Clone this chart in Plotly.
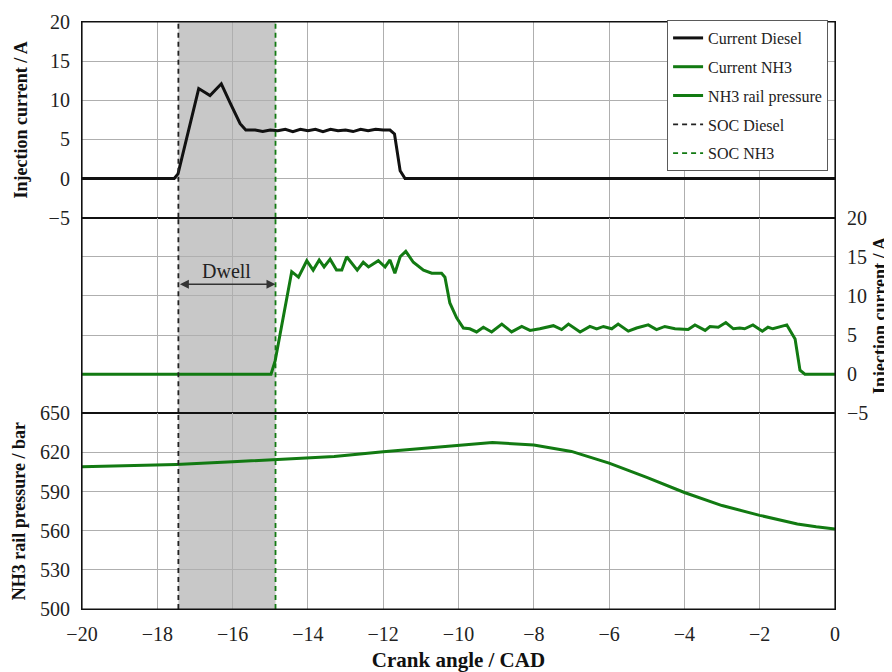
import plotly.graph_objects as go

# ---------------- data ----------------
x_range = [-20, 0]
x_ticks = list(range(-20, 1, 2))
current_range = [-5, 20]
current_ticks = [-5, 0, 5, 10, 15, 20]
pressure_range = [500, 650]
pressure_ticks = [500, 530, 560, 590, 620, 650]

soc_diesel = -17.44
soc_nh3 = -14.86

diesel_x = [-20, -17.55, -17.45, -16.9, -16.6, -16.3, -16.05, -15.8, -15.65, -15.4, -15.2,
            -15.0, -14.8, -14.6, -14.4, -14.2, -14.0, -13.8, -13.6, -13.4, -13.2, -13.0,
            -12.8, -12.6, -12.4, -12.2, -12.0, -11.82, -11.7, -11.55, -11.42, 0]
diesel_y = [0, 0, 0.6, 11.5, 10.6, 12.1, 9.5, 7.0, 6.2, 6.2, 6.0,
            6.2, 6.1, 6.3, 6.0, 6.3, 6.1, 6.3, 6.0, 6.3, 6.1, 6.2,
            6.0, 6.3, 6.1, 6.3, 6.2, 6.2, 5.7, 1.0, 0, 0]

nh3_x = [-20, -14.98, -14.87, -14.43, -14.25, -14.03, -13.86, -13.70, -13.57, -13.41,
         -13.24, -13.10, -12.97, -12.69, -12.53, -12.39, -12.13, -11.95, -11.82, -11.69,
         -11.55, -11.40, -11.20, -10.93, -10.71, -10.45, -10.36, -10.23, -10.05, -9.87,
         -9.70, -9.52, -9.34, -9.12, -8.85, -8.59, -8.32, -8.10, -7.84, -7.48,
         -7.26, -7.08, -6.77, -6.51, -6.33, -6.15, -5.93, -5.76, -5.49, -5.27,
         -4.96, -4.74, -4.52, -4.25, -3.90, -3.72, -3.45, -3.32, -3.10, -2.90,
         -2.70, -2.53, -2.40, -2.18, -1.93, -1.78, -1.65, -1.28, -1.06, -0.93,
         -0.80, 0]
nh3_y = [0, 0, 1.7, 13.1, 12.4, 14.5, 13.3, 14.6, 13.7, 14.7,
         13.3, 13.3, 15.0, 13.3, 14.3, 13.7, 14.5, 13.7, 14.6, 12.9,
         15.0, 15.7, 14.3, 13.3, 12.9, 12.9, 12.4, 9.1, 7.2, 5.9,
         5.8, 5.4, 6.0, 5.4, 6.4, 5.4, 6.1, 5.6, 5.8, 6.2,
         5.7, 6.4, 5.4, 6.1, 5.8, 6.1, 5.8, 6.4, 5.5, 5.9,
         6.3, 5.7, 6.1, 5.8, 5.7, 6.3, 5.6, 6.1, 6.0, 6.6,
         5.8, 5.9, 5.8, 6.3, 5.5, 6.0, 5.8, 6.3, 4.5, 0.5,
         0, 0]

pressure_x = [-20, -18, -17.5, -16, -15, -14, -13.3, -12, -11, -10, -9.1, -8, -7, -6,
              -5, -4, -3, -2, -1, -0.5, 0]
pressure_y = [609, 610.3, 610.8, 612.8, 614.2, 615.8, 617.0, 620.6, 623.2, 625.8, 627.6,
              625.8, 620.8, 611.8, 600.9, 589.3, 579.3, 571.8, 565.2, 563.0, 561.4]

# ---------------- styling ----------------
FONT = "Times New Roman, Liberation Serif, serif"
GREEN = "rgb(18,122,18)"
GRID = "rgb(175,175,175)"
TICKFONT = dict(family=FONT, size=20, color="#222")
YTITLEFONT = dict(family=FONT, size=18, color="#111")
XTITLEFONT = dict(family=FONT, size=21, color="#111")

fig = go.Figure()
fig.update_layout(template="none")

fig.add_trace(go.Scatter(x=diesel_x, y=diesel_y, xaxis="x", yaxis="y", mode="lines",
                         name="Current Diesel", legendgroup="g1",
                         line=dict(color="#111", width=3)))
fig.add_trace(go.Scatter(x=nh3_x, y=nh3_y, xaxis="x", yaxis="y2", mode="lines",
                         name="Current NH3", legendgroup="g2",
                         line=dict(color=GREEN, width=3)))
fig.add_trace(go.Scatter(x=pressure_x, y=pressure_y, xaxis="x", yaxis="y3", mode="lines",
                         name="NH3 rail pressure", legendgroup="g3",
                         line=dict(color=GREEN, width=3)))

for soc, name, color, grp in [(soc_diesel, "SOC Diesel", "#222", "g4"),
                              (soc_nh3, "SOC NH3", GREEN, "g5")]:
    for i, (ya, rng) in enumerate([("y", current_range), ("y2", current_range),
                                   ("y3", pressure_range)]):
        fig.add_trace(go.Scatter(x=[soc, soc], y=rng, xaxis="x", yaxis=ya, mode="lines",
                                 name=name, legendgroup=grp, showlegend=(i == 0),
                                 line=dict(color=color, width=1.8, dash="5px,4px")))

# dwell shading (one rectangle per panel, drawn below the grid)
for ya in ["y", "y2", "y3"]:
    fig.add_shape(type="rect", xref="x", yref=f"{ya} domain", x0=soc_diesel, x1=soc_nh3,
                  y0=0, y1=1, fillcolor="rgb(200,200,200)", line=dict(width=0),
                  layer="below")

# outer frame of the stacked panels
fig.add_shape(type="rect", xref="paper", yref="paper", x0=0, x1=1, y0=0, y1=1,
              line=dict(color="#111", width=1.2), fillcolor="rgba(0,0,0,0)", layer="above")

# dwell annotation
fig.add_annotation(x=soc_nh3, y=11.5, ax=soc_diesel, ay=11.5, xref="x", yref="y2",
                   axref="x", ayref="y2", text="", showarrow=True, arrowside="end+start",
                   arrowhead=2, arrowsize=1.2, arrowwidth=1.5, arrowcolor="#333")
fig.add_annotation(x=(soc_diesel + soc_nh3) / 2, y=13.2, xref="x", yref="y2",
                   text="Dwell", showarrow=False,
                   font=dict(family=FONT, size=20, color="#222"))


def axis_style(ticks):
    return dict(showgrid=True, gridcolor=GRID, gridwidth=1, griddash="solid",
                zeroline=False, showline=True, linecolor="#111", linewidth=1.2,
                ticks="", tickmode="array", tickvals=ticks, tickfont=TICKFONT,
                automargin=False, ticklabeloverflow="allow",
                minor=dict(tickmode="array", tickvals=ticks, showgrid=True,
                           gridcolor=GRID, gridwidth=1, ticks=""))


fig.update_layout(
    width=884, height=664,
    margin=dict(l=74, r=57, t=12, b=63),
    paper_bgcolor="white", plot_bgcolor="white",
    font=dict(family=FONT, color="#222"),
    xaxis=dict(range=x_range, anchor="y3", domain=[0, 1],
               mirror="all", ticklabelstandoff=7,
               title=dict(text="<b>Crank angle / CAD</b>", font=XTITLEFONT, standoff=8),
               **axis_style(x_ticks)),
    yaxis=dict(range=current_range, domain=[2 / 3, 1],
               anchor="x", side="left", mirror=True, ticklabelstandoff=7,
               title=dict(text="<b>Injection current / A</b>", font=YTITLEFONT, standoff=16),
               **axis_style(current_ticks)),
    yaxis2=dict(range=current_range, domain=[1 / 3, 2 / 3],
                anchor="x", side="right", mirror=True, ticklabelstandoff=7,
                title=dict(text="<b>Injection current / A</b>", font=YTITLEFONT, standoff=6),
                **axis_style(current_ticks)),
    yaxis3=dict(range=pressure_range, domain=[0, 1 / 3],
                anchor="x", side="left", mirror=True, ticklabelstandoff=7,
                title=dict(text="<b>NH3 rail pressure / bar</b>", font=YTITLEFONT, standoff=9),
                **axis_style(pressure_ticks)),
    legend=dict(x=0.777, y=1.0034, xanchor="left", yanchor="top",
                bgcolor="white", bordercolor="rgb(90,90,90)", borderwidth=1,
                font=dict(family=FONT, size=16, color="#222"),
                traceorder="grouped", tracegroupgap=5, itemwidth=30),
    showlegend=True,
)

fig.write_html("out.html")
